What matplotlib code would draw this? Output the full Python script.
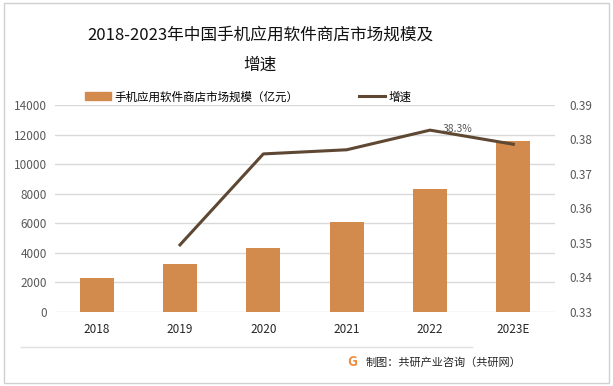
import numpy as np
import matplotlib as mpl
mpl.use('Agg')
import matplotlib.pyplot as plt
from matplotlib.patches import Rectangle
from matplotlib.lines import Line2D

plt.rcParams['font.family'] = ['Noto Sans CJK SC', 'DejaVu Sans']

years = ['2018', '2019', '2020', '2021', '2022', '2023E']
market_size = [2310, 3200, 4330, 6100, 8340, 11540]   # 亿元
growth_years = ['2019', '2020', '2021', '2022', '2023E']
growth = [0.3494, 0.3758, 0.3770, 0.3827, 0.3786]

bar_color = '#D38B4D'
line_color = '#5E4833'
grid_color = '#D9D9D9'
tick_color = '#595959'

fig = plt.figure(figsize=(6.13, 3.86), dpi=100)
fig.patches.append(Rectangle((0.006, 0.008), 0.988, 0.984, transform=fig.transFigure,
                             fill=False, edgecolor='#D0D0D0', lw=1))

ax = fig.add_axes([0.0897, 0.1925, 0.8157, 0.5355])
x = np.arange(len(years))
ax.bar(x, market_size, width=0.41, color=bar_color, zorder=2)
ax.set_xlim(-0.5, len(years) - 0.5)
ax.set_ylim(0, 14000)
ax.set_yticks(np.arange(0, 14001, 2000))
ax.grid(axis='y', color=grid_color, lw=1, zorder=0)
ax.set_xticks(x)
ax.set_xticklabels(years, fontsize=8.5, color='#262626')
ax.tick_params(axis='y', labelsize=8.5, labelcolor=tick_color, length=0, pad=6)
ax.tick_params(axis='x', length=0, pad=8)
for s in ax.spines.values():
    s.set_visible(False)

ax2 = ax.twinx()
gx = [years.index(y) for y in growth_years]
ax2.plot(gx, growth, color=line_color, lw=2.2, zorder=3)
ax2.set_ylim(0.33, 0.39)
ax2.set_yticks(np.arange(0.33, 0.3901, 0.01))
ax2.set_yticklabels(['%.2f' % v for v in np.arange(0.33, 0.3901, 0.01)])
ax2.tick_params(axis='y', labelsize=8.5, labelcolor=tick_color, length=0, pad=10)
for s in ax2.spines.values():
    s.set_visible(False)
ax2.annotate('38.3%', (gx[3], growth[3]), xytext=(20, 1), textcoords='offset points',
             ha='center', va='center', fontsize=7.5, color=tick_color)

fig.text(0.424, 0.91, '2018-2023年中国手机应用软件商店市场规模及', ha='center', va='center',
         fontsize=12, color='#111111')
fig.text(0.424, 0.83, '增速', ha='center', va='center', fontsize=12, color='#111111')

handles = [Rectangle((0, 0), 1, 1, color=bar_color), Line2D([0], [0], color=line_color, lw=2.2)]
fig.legend(handles, ['手机应用软件商店市场规模（亿元）', '增速'], ncol=2, loc='center',
           bbox_to_anchor=(0.405, 0.749), frameon=False, fontsize=8.3, handlelength=2.2,
           handletextpad=0.3, columnspacing=5.3)

fig.add_artist(Line2D([0.035, 0.77], [0.101, 0.101], color='#E0E0E0', lw=1,
                      transform=fig.transFigure))
fig.text(0.575, 0.062, 'G', ha='center', va='center', fontsize=10, fontweight='bold',
         color='#F08A3C')
fig.text(0.597, 0.062, '制图：共研产业咨询（共研网）', ha='left', va='center',
         fontsize=8, color='#262626')

fig.savefig('out.png', dpi=100)
